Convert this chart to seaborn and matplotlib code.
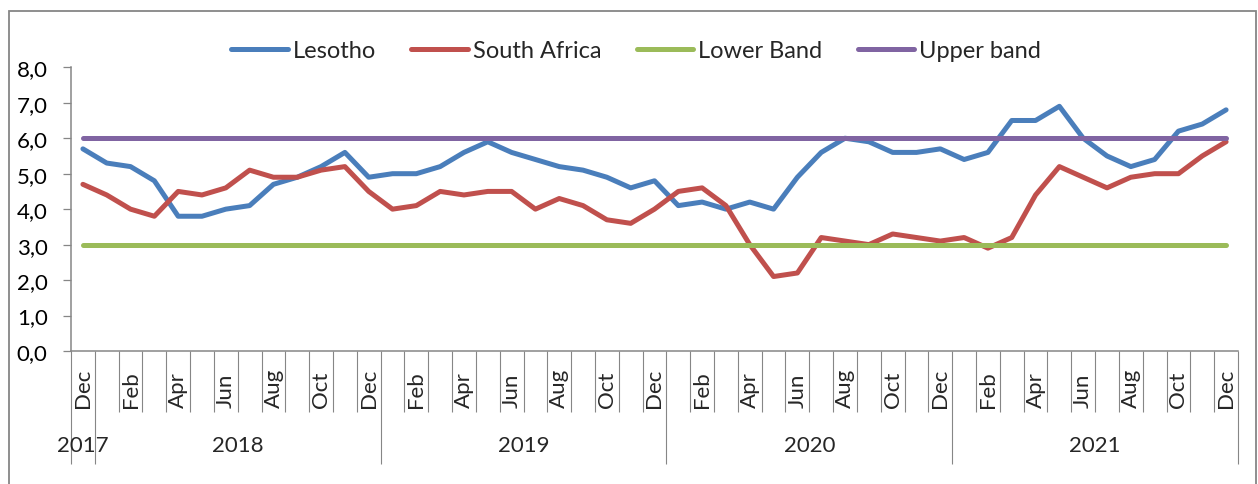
import numpy as np
import pandas as pd
import matplotlib
matplotlib.use("Agg")
import matplotlib.pyplot as plt
from matplotlib.patches import Rectangle
from matplotlib.ticker import FixedLocator, FuncFormatter
import seaborn as sns

# Monthly inflation, Dec 2017 - Dec 2021
months = ["Dec"] + ["Jan", "Feb", "Mar", "Apr", "May", "Jun",
                    "Jul", "Aug", "Sep", "Oct", "Nov", "Dec"] * 4
years = ["2017", "2018", "2019", "2020", "2021"]

lesotho = [5.7,
           5.3, 5.2, 4.8, 3.8, 3.8, 4.0, 4.1, 4.7, 4.9, 5.2, 5.6, 4.9,
           5.0, 5.0, 5.2, 5.6, 5.9, 5.6, 5.4, 5.2, 5.1, 4.9, 4.6, 4.8,
           4.1, 4.2, 4.0, 4.2, 4.0, 4.9, 5.6, 6.0, 5.9, 5.6, 5.6, 5.7,
           5.4, 5.6, 6.5, 6.5, 6.9, 6.0, 5.5, 5.2, 5.4, 6.2, 6.4, 6.8]
south_africa = [4.7,
                4.4, 4.0, 3.8, 4.5, 4.4, 4.6, 5.1, 4.9, 4.9, 5.1, 5.2, 4.5,
                4.0, 4.1, 4.5, 4.4, 4.5, 4.5, 4.0, 4.3, 4.1, 3.7, 3.6, 4.0,
                4.5, 4.6, 4.1, 3.0, 2.1, 2.2, 3.2, 3.1, 3.0, 3.3, 3.2, 3.1,
                3.2, 2.9, 3.2, 4.4, 5.2, 4.9, 4.6, 4.9, 5.0, 5.0, 5.5, 5.9]
lower_band = [3.0] * 49
upper_band = [6.0] * 49

series_names = ["Lesotho", "South Africa", "Lower Band", "Upper band"]
series_colors = ["#4A7EBB", "#C0504D", "#9BBB59", "#8064A2"]

n = len(months)
idx = np.arange(n)
df = pd.concat([
    pd.DataFrame({"idx": idx, "value": vals, "series": name})
    for name, vals in zip(series_names, [lesotho, south_africa, lower_band, upper_band])
], ignore_index=True)

sns.set_style("white")
plt.rcParams["font.family"] = ["Lato", "DejaVu Sans"]

W, H = 1258, 485
fig = plt.figure(figsize=(W / 100, H / 100), dpi=100)
ax = fig.add_axes([71 / W, 1 - 352 / H, (1238 - 71) / W, (352 - 68.3) / H])

sns.lineplot(data=df, x="idx", y="value", hue="series", hue_order=series_names,
             palette=series_colors, linewidth=3.6, sort=False, legend=True,
             solid_capstyle="round", solid_joinstyle="round", ax=ax)

gray = "#868686"
ax.set_xlim(-0.5, n - 0.5)
ax.set_ylim(0, 8)
ax.set_xlabel("")
ax.set_ylabel("")
for side in ["top", "right"]:
    ax.spines[side].set_visible(False)
for side in ["left", "bottom"]:
    ax.spines[side].set_color(gray)
    ax.spines[side].set_linewidth(1.1)

# y axis
ax.set_yticks(np.arange(0, 8.01, 1.0))
ax.yaxis.set_major_formatter(FuncFormatter(lambda v, p: f"{v:.1f}".replace(".", ",")))
ax.tick_params(axis="y", left=True, direction="out", length=5.8, width=0.9, color=gray,
               pad=11, labelsize=16, labelcolor="black")

# x axis: month boundaries (minor) and year boundaries (major)
year_bounds = [-0.5, 0.5, 12.5, 24.5, 36.5, 48.5]
ax.xaxis.set_major_locator(FixedLocator(year_bounds))
ax.xaxis.set_minor_locator(FixedLocator(np.arange(-0.5, n, 1.0)))
ax.tick_params(axis="x", which="major", bottom=True, direction="out", length=81,
               width=0.8, color=gray, labelbottom=False)
ax.tick_params(axis="x", which="minor", bottom=True, direction="out", length=44,
               width=0.8, color=gray, labelbottom=False)

# month labels every other month
for i in range(0, n, 2):
    ax.annotate(months[i], xy=(i, 0), xycoords=("data", "axes fraction"),
                xytext=(0, -40.5), textcoords="offset points",
                rotation=90, ha="center", va="bottom", fontsize=16)

# year labels centred under their months
year_centers = [0, 6.5, 18.5, 30.5, 42.5]
for yr, xc in zip(years, year_centers):
    ax.annotate(yr, xy=(xc, 0), xycoords=("data", "axes fraction"),
                xytext=(0, -68), textcoords="offset points",
                ha="center", va="center", fontsize=16)

# legend
handles, labels = ax.get_legend_handles_labels()
for h in handles:
    h.set_linewidth(3.6)
    h.set_solid_capstyle("round")
ax.legend(handles, labels, loc="center", bbox_to_anchor=(636 / W, 1 - 51.7 / H),
          bbox_transform=fig.transFigure, ncol=4, frameon=False, fontsize=17,
          handlelength=2.4, handletextpad=0.2, columnspacing=1.5)

# outer chart border
fig.add_artist(Rectangle((9 / W, -0.02), (1256 - 9) / W, 1.02 - 12 / H,
                         transform=fig.transFigure, fill=False,
                         edgecolor=gray, linewidth=1.3))

fig.savefig("out.png", dpi=100)
